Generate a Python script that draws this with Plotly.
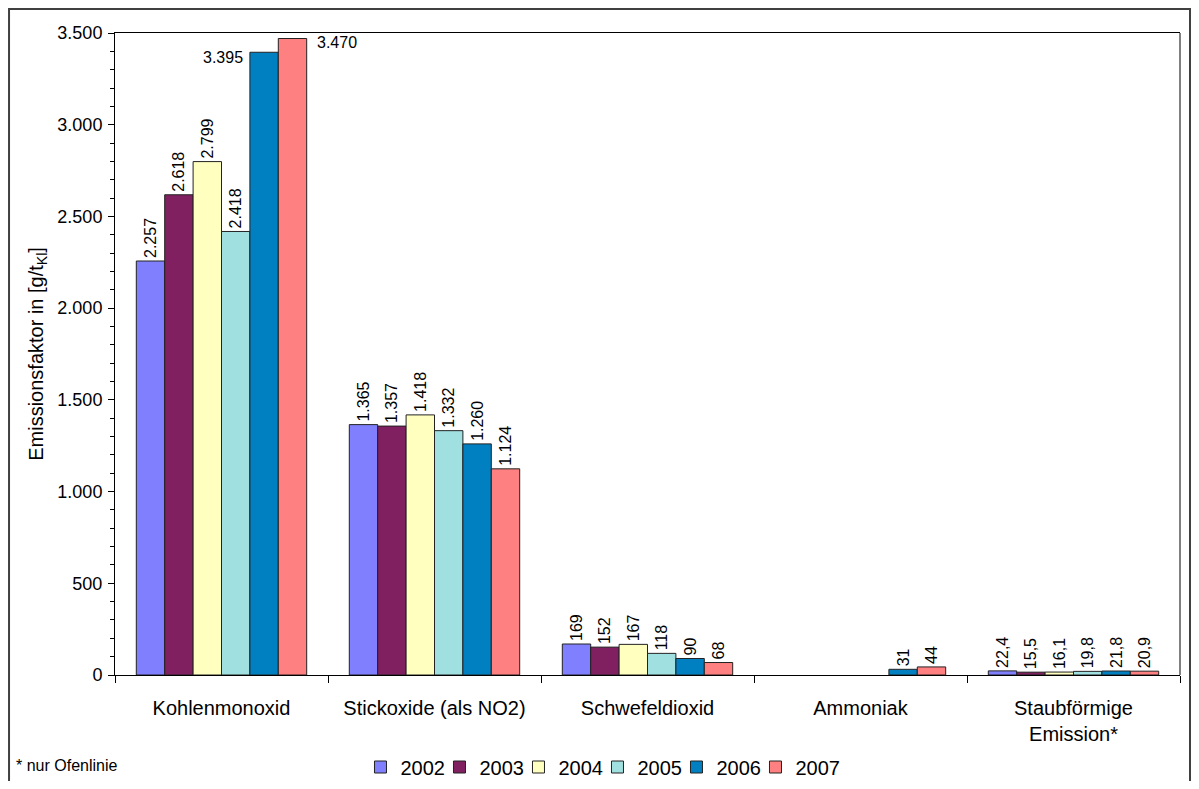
import plotly.graph_objects as go

categories = ["Kohlenmonoxid", "Stickoxide (als NO2)", "Schwefeldioxid", "Ammoniak",
              "Staubförmige<br>Emission*"]
years = ["2002", "2003", "2004", "2005", "2006", "2007"]
v2002 = [2257, 1365, 169, None, 22.4]
v2003 = [2618, 1357, 152, None, 15.5]
v2004 = [2799, 1418, 167, None, 16.1]
v2005 = [2418, 1332, 118, None, 19.8]
v2006 = [3395, 1260, 90, 31, 21.8]
v2007 = [3470, 1124, 68, 44, 20.9]
series = [v2002, v2003, v2004, v2005, v2006, v2007]
colors = ["#8080FF", "#802060", "#FFFFC0", "#A0E0E0", "#0080C0", "#FF8080"]
yticks = [0, 500, 1000, 1500, 2000, 2500, 3000, 3500]
ytick_text = ["0", "500", "1.000", "1.500", "2.000", "2.500", "3.000", "3.500"]

# labels drawn horizontally beside the bar (top values)
side_labels = {(4, 0): "left", (5, 0): "right"}


def fmt(v):
    if v is None:
        return ""
    if float(v).is_integer():
        return f"{int(v):,}".replace(",", ".")
    return f"{v:.1f}".replace(".", ",")


FONT = "Liberation Sans, Arial, sans-serif"
W, H = 1183, 773
ML, MR, MT, MB = 107, 11, 25, 106
plot_w = W - ML - MR
plot_h = H - MT - MB

fig = go.Figure()
for i, (yr, vals, col) in enumerate(zip(years, series, colors)):
    texts = []
    for j, v in enumerate(vals):
        texts.append(None if (i, j) in side_labels else fmt(v))
    fig.add_trace(go.Bar(
        name=yr, x=categories, y=vals,
        marker=dict(color=col, line=dict(color="#222222", width=1)),
        text=texts, textposition="outside", textangle=-90, constraintext="none",
        cliponaxis=False, textfont=dict(family=FONT, size=16, color="black"),
        hoverinfo="x+y+name",
        legendwidth=46 if i == len(years) - 1 else None,
    ))

n = len(years)
bargap = 0.2
catw_px = plot_w / len(categories)
barw_px = catw_px * (1 - bargap) / n
annotations = []
for (i, j), side in side_labels.items():
    v = series[i][j]
    offset = (i - (n - 1) / 2) * barw_px
    if side == "left":
        annotations.append(dict(x=categories[j], y=v, xref="x", yref="y", text=fmt(v),
                                showarrow=False, xanchor="right", yanchor="middle",
                                xshift=offset - barw_px / 2 - 5, yshift=-5,
                                font=dict(family=FONT, size=16, color="black")))
    else:
        annotations.append(dict(x=categories[j], y=v, xref="x", yref="y", text=fmt(v),
                                showarrow=False, xanchor="left", yanchor="middle",
                                xshift=offset + barw_px / 2 + 8, yshift=-4,
                                font=dict(family=FONT, size=16, color="black")))

annotations.append(dict(x=-0.095, y=-0.1417, xref="paper", yref="paper", text="* nur Ofenlinie",
                        showarrow=False, xanchor="left", yanchor="middle",
                        font=dict(family=FONT, size=16, color="black")))

fig.update_layout(
    width=W, height=H,
    margin=dict(l=ML, r=MR, t=MT, b=MB, pad=0, autoexpand=False),
    paper_bgcolor="white", plot_bgcolor="white",
    barmode="group", bargap=bargap, bargroupgap=0,
    font=dict(family=FONT, color="black"),
    showlegend=True,
    legend=dict(orientation="h", x=0.2305, xanchor="left", xref="paper",
                y=1 - 759 / H, yanchor="middle", yref="container",
                font=dict(family=FONT, size=20, color="black"), itemwidth=30,
                entrywidth=34, entrywidthmode="pixels",
                traceorder="normal", bgcolor="rgba(0,0,0,0)"),
    annotations=annotations,
    shapes=[
        dict(type="rect", xref="paper", yref="paper", x0=-0.0995, x1=(W - 1 - ML) / plot_w,
             y0=-0.3, y1=(plot_h + MT - 1) / plot_h, line=dict(color="#404040", width=2),
             layer="below"),
        dict(type="line", xref="paper", yref="paper", x0=1, x1=1, y0=0, y1=1,
             line=dict(color="#808080", width=2)),
    ],
)
fig.update_xaxes(
    type="category", showline=True, linecolor="black", linewidth=1, mirror=True,
    ticks="outside", tickson="boundaries", ticklen=7, tickcolor="black",
    ticklabelstandoff=15, automargin=False,
    showgrid=False, tickfont=dict(family=FONT, size=20, color="black"),
)
fig.update_yaxes(
    range=[0, 3500], tickvals=yticks, ticktext=ytick_text,
    showline=True, linecolor="black", linewidth=1, mirror=False,
    ticks="outside", ticklen=6, tickcolor="black", showgrid=False, zeroline=False,
    ticklabelstandoff=2, automargin=False,
    minor=dict(dtick=100, ticks="outside", ticklen=4, tickcolor="black"),
    tickfont=dict(family=FONT, size=18, color="black"),
    title=dict(text="Emissionsfaktor in [g/t<sub>Kl</sub>]", standoff=8,
               font=dict(family=FONT, size=20, color="black")),
)

fig.write_html("out.html")
